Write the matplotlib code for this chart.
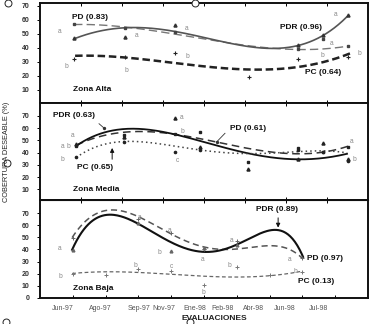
import numpy as np
import matplotlib
matplotlib.use("Agg")
import matplotlib.pyplot as plt
from matplotlib.lines import Line2D

plt.rcParams['font.family'] = ['Liberation Sans', 'DejaVu Sans']

# ---------------- DATA ----------------
x_labels = ["Jun-97", "Ago-97", "Sep-97", "Nov-97", "Ene-98", "Feb-98", "Abr-98", "Jun-98", "Jul-98"]
x_label_pos = [0.70, 1.83, 3.02, 3.78, 4.73, 5.58, 6.52, 7.47, 8.48]

# Zona Alta: evaluation positions and observed values
alta_x = [1.04, 2.59, 4.12, 6.37, 7.87, 8.63, 9.39]
alta_pdr = [46.7, 47.8, 56.0, np.nan, 41.9, 49.0, 63.2]
alta_pd = [56.8, 53.8, 51.4, np.nan, 38.8, 46.0, 41.2]
alta_pc = [31.7, 33.6, 36.0, 19.0, 31.7, np.nan, 33.6]
# Zona Alta: trend lines
alta_pdr_tx = [1.07, 2.04, 2.53, 3.57, 4.36, 4.88, 5.88, 6.92, 7.71, 8.45, 8.93, 9.39]
alta_pdr_ty = [46.7, 52.5, 54.2, 53.8, 50.2, 47.8, 43.1, 39.5, 40.3, 46.7, 53.8, 62.5]
alta_pd_tx = [1.04, 2.04, 3.05, 4.05, 4.88, 5.88, 6.92, 7.93, 9.39]
alta_pd_ty = [56.8, 55.4, 53.0, 50.7, 46.7, 43.0, 39.5, 38.8, 41.2]
alta_pc_tx = [1.07, 2.04, 2.65, 3.57, 4.36, 5.09, 5.88, 6.62, 7.41, 8.45, 9.45]
alta_pc_ty = [31.7, 36.4, 36.0, 31.0, 26.5, 24.0, 23.4, 24.0, 27.7, 31.7, 33.6]
alta_letters = [(0.61, 51.8, "a"), (0.79, 26.3, "b"), (2.93, 49.0, "a"), (2.62, 24.1, "b"),
                (4.48, 54.0, "a"), (4.48, 34.1, "b"), (8.90, 43.3, "a"), (8.60, 34.8, "b"),
                (9.02, 63.9, "a"), (9.73, 36.2, "b")]

# Zona Media
media_x = [1.10, 2.56, 4.12, 4.88, 6.34, 7.87, 8.63, 9.39]
media_pdr = [47.0, 53.0, 67.9, 44.7, 26.3, 34.5, 48.0, 34.5]
media_pd = [45.3, 54.3, 54.8, 57.0, 32.5, 43.4, 40.2, 44.7]
media_pc = [36.1, 48.4, 40.7, 42.4, np.nan, 42.1, 40.2, 33.4]
media_pdr_tx = [1.10, 1.62, 2.53, 3.35, 4.27, 5.18, 5.88, 6.92, 7.93, 9.36]
media_pdr_ty = [45.3, 53.5, 58.4, 58.4, 54.3, 48.8, 40.5, 36.1, 35.3, 38.8]
media_pd_tx = [1.10, 2.53, 4.05, 5.18, 5.40, 6.40, 7.41, 8.45, 9.39]
media_pd_ty = [46.1, 55.7, 55.7, 50.8, 48.8, 40.7, 39.9, 40.7, 44.7]
media_pc_tx = [1.10, 2.04, 2.65, 3.57, 4.57, 5.18, 5.88, 7.41, 8.45, 9.36]
media_pc_ty = [36.1, 46.1, 49.6, 48.8, 42.0, 40.7, 39.9, 40.7, 40.7, 39.9]
media_letters = [(1.00, 53.5, "a"), (0.70, 45.3, "a"), (0.88, 45.3, "b"), (0.67, 34.7, "b"),
                 (4.33, 68.9, "a"), (4.33, 57.5, "b"), (4.18, 33.9, "c"),
                 (9.51, 48.8, "a"), (9.60, 34.5, "b")]

# Zona Baja
baja_x = [1, 2, 3, 4, 5, 6, 7, 8]
baja_pdr = [39.8, np.nan, 62.0, 38.7, 41.0, 43.7, np.nan, np.nan]
baja_pd = [49.5, np.nan, 65.0, 53.6, 40.0, 47.0, np.nan, 33.0]
baja_pc = [19.6, 18.8, 24.0, 22.0, 10.5, 25.5, 19.0, 21.0]
baja_pdr_tx = [0.98, 1.52, 2.13, 2.96, 3.57, 4.27, 4.88, 5.40, 5.88, 6.40, 6.92, 7.26, 7.62, 7.87, 8.02]
baja_pdr_ty = [39.8, 62.0, 68.8, 62.0, 52.0, 42.6, 38.5, 38.5, 42.6, 49.5, 55.0, 55.9, 52.0, 41.0, 34.3]
baja_pd_tx = [0.98, 1.52, 2.13, 2.96, 4.05, 4.97, 5.40, 6.40, 6.92, 7.41, 7.93, 8.02]
baja_pd_ty = [49.5, 67.5, 71.6, 67.5, 53.6, 41.0, 39.8, 42.6, 43.4, 41.0, 34.3, 32.3]
baja_pc_tx = [0.98, 2.04, 2.96, 4.05, 5.18, 5.88, 6.92, 7.93]
baja_pc_ty = [19.6, 22.4, 21.3, 18.2, 17.2, 17.7, 18.6, 21.3]
baja_letters = [(0.61, 40.4, "a"), (0.61, 17.2, "b"), (3.05, 66.9, "a"), (2.90, 27.1, "b"),
                (3.96, 55.3, "a"), (3.63, 37.1, "b"), (4.00, 25.5, "c"), (4.97, 31.3, "a"),
                (4.97, 4.7, "b"), (5.85, 47.8, "a"), (5.76, 26.3, "b"), (7.62, 31.3, "a"),
                (7.80, 22.1, "b")]


def trend(ax, tx, ty, deg, **kw):
    tx = np.asarray(tx, float)
    ty = np.asarray(ty, float)
    c = np.polyfit(tx, ty, deg)
    xs = np.linspace(tx.min(), tx.max(), 200)
    ax.plot(xs, np.polyval(c, xs), **kw)


W, H = 374, 324
fig = plt.figure(figsize=(W / 100, H / 100), dpi=100)


def px_axes(top, bottom, left=40, right=368):
    return fig.add_axes([left / W, 1 - bottom / H, (right - left) / W, (bottom - top) / H])


ax1 = px_axes(3, 103)
ax2 = px_axes(103, 200)
ax3 = px_axes(200, 298)

tick_font = dict(fontsize=5, fontweight='bold', color='#333333')
lab_font = dict(fontsize=6, fontweight='bold', color='#111111')
let_font = dict(fontsize=4.8, color='#888888', ha='center', va='center')

for ax in (ax1, ax2, ax3):
    ax.set_xlim(0, 10)
    for s in ax.spines.values():
        s.set_linewidth(1.4)
        s.set_color('#111111')
    ax.tick_params(axis='y', direction='out', length=2.5, width=0.7, pad=5, labelsize=5,
                   labelcolor='#333333')
    for t in ax.get_yticklabels():
        t.set_fontweight('bold')

# common x ticks for top panels
for ax in (ax1, ax2):
    ax.set_xticks(np.arange(1.25, 10, 1.25))
    ax.tick_params(axis='x', top=True, bottom=True, direction='in', length=2.5, width=0.7,
                   labelbottom=False)

# ---- Panel 1: Zona Alta ----
ax1.set_ylim(0.7, 71.8)
ax1.set_yticks(range(10, 80, 10))
trend(ax1, alta_pd_tx, alta_pd_ty, 3, color='#777777', lw=1.0, dashes=(6, 3))
trend(ax1, alta_pdr_tx, alta_pdr_ty, 4, color='#555555', lw=1.2)
trend(ax1, alta_pc_tx, alta_pc_ty, 3, color='#222222', lw=1.8, dashes=(3, 1.5))
ax1.plot(alta_x, alta_pdr, '^', ms=2.2, color='#333333', ls='none')
ax1.plot(alta_x, alta_pd, 's', ms=1.8, color='#444444', ls='none')
ax1.plot(alta_x, alta_pc, '+', ms=2.5, mew=0.8, color='#222222', ls='none')
for x, y, t in alta_letters:
    ax1.text(x, y, t, **let_font)
ax1.text(0.98, 61.8, "PD (0.83)", ha='left', va='center', **lab_font)
ax1.text(7.32, 54.7, "PDR (0.96)", ha='left', va='center', **lab_font)
ax1.text(8.08, 22.7, "PC (0.64)", ha='left', va='center', **lab_font)
ax1.text(1.0, 10.0, "Zona Alta", ha='left', va='center', **lab_font)

# ---- Panel 2: Zona Media ----
ax2.set_ylim(1.3, 80.4)
ax2.set_yticks(range(10, 80, 10))
trend(ax2, media_pd_tx, media_pd_ty, 4, color='#333333', lw=1.1, dashes=(5, 3))
trend(ax2, media_pdr_tx, media_pdr_ty, 4, color='#111111', lw=1.3)
trend(ax2, media_pc_tx, media_pc_ty, 4, color='#444444', lw=1.1, dashes=(1, 2))
ax2.plot(media_x, media_pdr, '^', ms=2.2, color='#222222', ls='none')
ax2.plot(media_x, media_pd, 's', ms=1.8, color='#222222', ls='none')
ax2.plot(media_x, media_pc, 'o', ms=1.6, color='#222222', ls='none')
for x, y, t in media_letters:
    ax2.text(x, y, t, **let_font)
ax2.text(0.40, 69.8, "PDR (0.63)", ha='left', va='center', **lab_font)
ax2.plot([1.80, 1.95], [63.5, 60.0], color='#333333', lw=0.6)
ax2.plot([1.95], [60.0], 'o', ms=1.4, color='#333333')
ax2.text(5.79, 59.2, "PD (0.61)", ha='left', va='center', **lab_font)
ax2.plot([5.64, 5.39], [55.7, 48.8], color='#333333', lw=0.6)
ax2.plot([5.39], [48.8], 'o', ms=1.4, color='#333333')
ax2.text(1.13, 27.4, "PC (0.65)", ha='left', va='center', **lab_font)
ax2.annotate("", xy=(2.2, 46.0), xytext=(2.2, 32.3),
             arrowprops=dict(arrowstyle='-|>', color='#111111', lw=0.7, mutation_scale=6))
ax2.text(1.0, 9.5, "Zona Media", ha='left', va='center', **lab_font)

# ---- Panel 3: Zona Baja ----
ax3.set_ylim(-0.25, 81)
ax3.set_yticks(range(0, 80, 10))
trend(ax3, baja_pd_tx, baja_pd_ty, 5, color='#555555', lw=1.1, dashes=(4, 2.5))
trend(ax3, baja_pdr_tx, baja_pdr_ty, 6, color='#111111', lw=1.5)
trend(ax3, baja_pc_tx, baja_pc_ty, 3, color='#666666', lw=0.9, dashes=(3, 2))
ax3.plot(baja_x, baja_pdr, '^', ms=2.0, color='#666666', ls='none')
ax3.plot(baja_x, baja_pd, '+', ms=2.5, mew=0.7, color='#666666', ls='none')
ax3.plot(baja_x, baja_pc, '+', ms=2.5, mew=0.7, color='#777777', ls='none')
for x, y, t in baja_letters:
    ax3.text(x, y, t, **let_font)
ax3.text(7.23, 73.5, "PDR (0.89)", ha='center', va='center', **lab_font)
ax3.annotate("", xy=(7.26, 55.8), xytext=(7.26, 68.5),
             arrowprops=dict(arrowstyle='-|>', color='#111111', lw=0.7, mutation_scale=6))
ax3.text(8.14, 32.1, "PD (0.97)", ha='left', va='center', **lab_font)
ax3.text(7.87, 13.8, "PC (0.13)", ha='left', va='center', **lab_font)
ax3.text(1.0, 8.0, "Zona Baja", ha='left', va='center', **lab_font)

ax3.set_xticks(x_label_pos)
ax3.set_xticklabels(x_labels)
ax3.set_xticks(range(1, 10), minor=True)
ax3.tick_params(axis='x', which='major', length=0, pad=5, labelsize=5, labelcolor='#555555')
ax3.tick_params(axis='x', which='minor', direction='in', length=2.5, width=0.7)
sec = ax3.secondary_xaxis('top')
sec.set_xticks(np.arange(1.25, 10, 1.25))
sec.tick_params(direction='in', length=2.5, width=0.7, labeltop=False)

fig.text(214 / W, 1 - 318 / H, "EVALUACIONES", ha='center', va='center',
         fontsize=6, fontweight='bold', color='#222222')
fig.text(7 / W, 1 - 152 / H, "COBERTURA DESEABLE (%)", rotation=90, ha='center', va='center',
         fontsize=5.3, color='#222222')

# selection handles present in the screenshot
for hx, hy in [(8, 3), (195, 3), (7, 163), (6, 322), (190, 322)]:
    fig.add_artist(Line2D([hx / W], [1 - hy / H], marker='o', ms=5, mfc='white', mec='#222222',
                          mew=0.7, transform=fig.transFigure))

fig.savefig("out.png", dpi=100)
